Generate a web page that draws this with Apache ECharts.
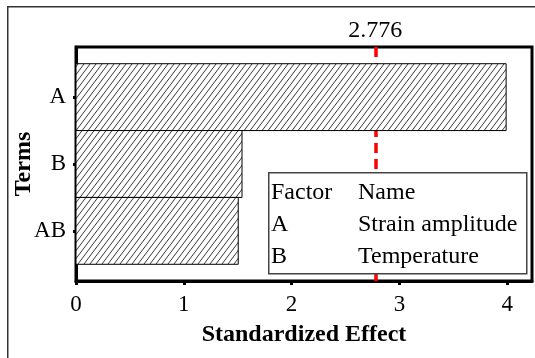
<!DOCTYPE html>
<html>
<head>
<meta charset="utf-8">
<script src="https://cdn.jsdelivr.net/npm/echarts@6/dist/echarts.min.js"></script>
<style>
html,body{margin:0;padding:0;background:#fff;}
#c{width:535px;height:358px;}
</style>
</head>
<body>
<div id="c"></div>
<script>
// ---- data ----
const terms = ['A', 'B', 'AB'];
const effects = [3.99, 1.54, 1.505];
const xTicks = [0, 1, 2, 3, 4];
const criticalValue = 2.776;
const factorCol = ['Factor', 'A', 'B'];
const nameCol = ['Name', 'Strain amplitude', 'Temperature'];
const xMax = 4.23;

// ---- hatch pattern ----
function makeHatch() {
  const w = 6, h = 8;
  const c = document.createElement('canvas');
  c.width = w; c.height = h;
  const g = c.getContext('2d');
  g.fillStyle = '#fff';
  g.fillRect(0, 0, w, h);
  g.strokeStyle = '#222';
  g.lineWidth = 0.9;
  g.beginPath();
  for (let k = -1; k <= 1; k++) {
    g.moveTo(k * w, h);
    g.lineTo(k * w + w, 0);
  }
  g.stroke();
  return c;
}
const hatch = makeHatch();

const font = 'Liberation Serif';
const chart = echarts.init(document.getElementById('c'), null, {renderer: 'canvas'});

const legendGraphics = [];
legendGraphics.push({
  type: 'rect', left: 268, top: 172, z: 100,
  shape: {width: 258, height: 101},
  style: {fill: '#fff', stroke: '#444', lineWidth: 1.5}
});
for (let r = 0; r < factorCol.length; r++) {
  legendGraphics.push({
    type: 'text', left: 271, top: 181 + r * 32, z: 101,
    style: {text: factorCol[r], font: '24px "' + font + '"', fill: '#000'}
  });
  legendGraphics.push({
    type: 'text', left: 358, top: 181 + r * 32, z: 101,
    style: {text: nameCol[r], font: '24px "' + font + '"', fill: '#000'}
  });
}

const option = {
  backgroundColor: '#fff',
  animation: false,
  textStyle: {fontFamily: font},
  grid: {
    left: 76, right: 3, top: 47, bottom: 77,
    containLabel: false, outerBoundsMode: 'none',
    show: true, borderColor: '#000', borderWidth: 3, backgroundColor: 'transparent'
  },
  graphic: [
    {
      type: 'rect', left: 7, top: 6, z: -10, silent: true,
      shape: {width: 600, height: 400},
      style: {fill: 'transparent', stroke: '#333', lineWidth: 1.5}
    }
  ].concat(legendGraphics),
  xAxis: [
    {
      type: 'value', min: 0, max: xMax, interval: 1,
      name: 'Standardized Effect', nameLocation: 'middle', nameGap: 42, nameMoveOverlap: false,
      nameTextStyle: {fontFamily: font, fontWeight: 'bold', fontSize: 24, color: '#000'},
      axisLine: {show: true, onZero: false, lineStyle: {color: '#000', width: 3}},
      axisTick: {show: true, inside: false, length: 4, lineStyle: {color: '#000', width: 3}, customValues: xTicks},
      axisLabel: {fontFamily: font, fontSize: 23, color: '#000', margin: 12, customValues: xTicks},
      splitLine: {show: false}
    },
    {
      type: 'value', min: 0, max: xMax, position: 'top',
      axisLine: {show: false, onZero: false}, axisTick: {show: false}, splitLine: {show: false},
      axisLabel: {
        fontFamily: font, fontSize: 24, color: '#000', margin: 4,
        customValues: [criticalValue],
        formatter: v => v.toFixed(3)
      }
    }
  ],
  yAxis: {
    type: 'value', min: -0.75, max: 2.75, inverse: true,
    name: 'Terms', nameLocation: 'middle', nameGap: 40, nameMoveOverlap: false,
    nameTextStyle: {fontFamily: font, fontWeight: 'bold', fontSize: 24, color: '#000'},
    axisLine: {show: true, onZero: false, lineStyle: {color: '#000', width: 3}},
    axisTick: {show: true, inside: false, length: 3, lineStyle: {color: '#000', width: 3},
      customValues: terms.map((t, i) => i)},
    axisLabel: {fontFamily: font, fontSize: 23, color: '#000', margin: 10,
      customValues: terms.map((t, i) => i),
      formatter: v => terms[Math.round(v)]},
    splitLine: {show: false}
  },
  series: [
    {
      type: 'line', data: [], z: 1,
      markLine: {
        silent: true, symbol: 'none', animation: false,
        label: {show: false},
        lineStyle: {color: '#ff0000', type: [10, 6], width: 3.5},
        data: [{xAxis: criticalValue}]
      }
    },
    {
      type: 'custom', z: 5,
      encode: {x: 0, y: 1},
      data: effects.map((v, i) => [v, i]),
      renderItem: function (params, api) {
        const v = api.value(0), i = api.value(1);
        const p0 = api.coord([0, i - 0.5]);
        const p1 = api.coord([v, i + 0.5]);
        return {
          type: 'rect',
          shape: {x: p0[0], y: Math.min(p0[1], p1[1]), width: p1[0] - p0[0], height: Math.abs(p1[1] - p0[1])},
          style: {fill: {image: hatch, repeat: 'repeat'}, stroke: '#000', lineWidth: 1}
        };
      }
    }
  ]
};
chart.setOption(option);
</script>
</body>
</html>
